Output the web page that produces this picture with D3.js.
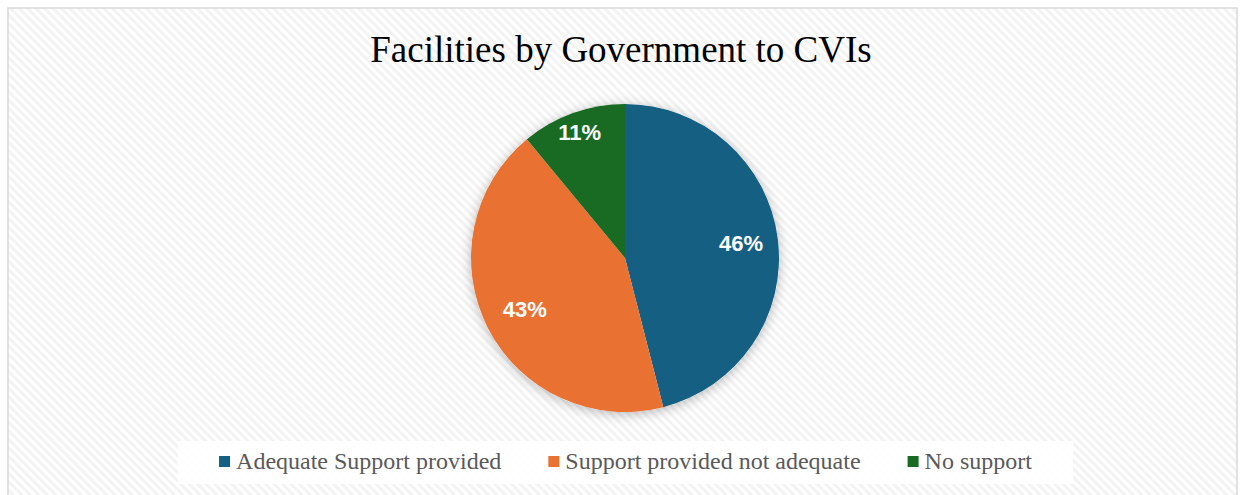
<!DOCTYPE html>
<html>
<head>
<meta charset="utf-8">
<script src="https://cdn.jsdelivr.net/npm/d3@7"></script>
<style>
  body { margin: 0; background: #ffffff; }
  svg { display: block; }
</style>
</head>
<body>
<div id="chart"></div>
<script>
const width = 1242;
const height = 495;

// data
const categories = ["Adequate Support provided", "Support provided not adequate", "No support"];
const values = [46, 43, 11];
const colors = ["#156082", "#e97132", "#196b24"];
// label distance from centre, as a share of the radius (Excel best fit)
const label_r = [0.76, 0.73, 0.87];

const cx = 625, cy = 258, radius = 154;

var svg = d3.select("#chart").append("svg")
    .attr("width", width)
    .attr("height", height);

var defs = svg.append("defs");

//striped background like the office chart area
var pat = defs.append("pattern")
    .attr("id", "stripes")
    .attr("patternUnits", "userSpaceOnUse")
    .attr("width", 6)
    .attr("height", 6)
    .attr("patternTransform", "rotate(-45)");
pat.append("rect").attr("width", 6).attr("height", 6).attr("fill", "#ffffff");
pat.append("rect").attr("width", 3).attr("height", 6).attr("fill", "#f3f3f3");

var shadow = defs.append("filter")
    .attr("id", "shadow")
    .attr("x", "-20%").attr("y", "-20%")
    .attr("width", "140%").attr("height", "140%");
shadow.append("feDropShadow")
    .attr("dx", 0).attr("dy", 2)
    .attr("stdDeviation", 6)
    .attr("flood-color", "#000")
    .attr("flood-opacity", 0.28);

svg.append("rect")
    .attr("x", 8).attr("y", 8)
    .attr("width", 1229).attr("height", 500)
    .attr("fill", "url(#stripes)")
    .attr("stroke", "#d9d9d9")
    .attr("stroke-width", 1.5);

svg.append("text")
    .attr("x", 621)
    .attr("y", 62)
    .attr("text-anchor", "middle")
    .style("font-family", "'Liberation Serif', 'Times New Roman', serif")
    .style("font-size", "37px")
    .attr("fill", "#000")
    .text("Facilities by Government to CVIs");

//pie
var pie = d3.pie().sort(null).value(d => d);
var arcs = pie(values);
var arc = d3.arc().innerRadius(0).outerRadius(radius);

var g = svg.append("g")
    .attr("transform", "translate(" + cx + "," + cy + ")");

g.append("circle")
    .attr("r", radius)
    .attr("fill", "#fff")
    .attr("filter", "url(#shadow)");

g.selectAll("path.slice")
    .data(arcs)
    .enter()
    .append("path")
    .attr("class", "slice")
    .attr("d", arc)
    .attr("fill", (d, i) => colors[i]);

g.selectAll("text.lbl")
    .data(arcs)
    .enter()
    .append("text")
    .attr("class", "lbl")
    .attr("transform", (d, i) => {
        var r = radius * label_r[i];
        var la = d3.arc().innerRadius(r).outerRadius(r);
        return "translate(" + la.centroid(d) + ")";
    })
    .attr("text-anchor", "middle")
    .attr("dy", "0.36em")
    .style("font-family", "'Liberation Sans', Arial, sans-serif")
    .style("font-weight", "bold")
    .style("font-size", "22px")
    .attr("fill", "#fff")
    .text(d => d.data + "%");

//legend
var legend = svg.append("g");
legend.append("rect")
    .attr("x", 178).attr("y", 441)
    .attr("width", 895).attr("height", 43)
    .attr("fill", "#ffffff")
    .attr("fill-opacity", 0.85);

var items = legend.selectAll("g.item")
    .data(categories)
    .enter()
    .append("g")
    .attr("class", "item");
items.append("rect")
    .attr("width", 11).attr("height", 11)
    .attr("y", 456)
    .attr("fill", (d, i) => colors[i]);
items.append("text")
    .attr("y", 469)
    .style("font-family", "'Liberation Serif', 'Times New Roman', serif")
    .style("font-size", "24px")
    .attr("fill", "#595959")
    .text(d => d);

var widths = [];
items.select("text").each(function() { widths.push(this.getComputedTextLength()); });
var gap = 47, sw = 17;
var total = d3.sum(widths) + sw * widths.length + gap * (widths.length - 1);
var x = 178 + (895 - total) / 2;
items.each(function(d, i) {
    var it = d3.select(this);
    it.select("rect").attr("x", x);
    it.select("text").attr("x", x + sw);
    x += sw + widths[i] + gap;
});
</script>
</body>
</html>
